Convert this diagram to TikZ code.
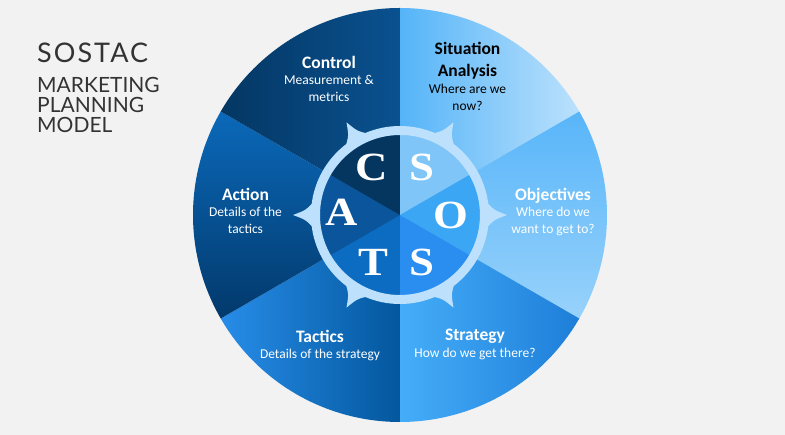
\documentclass[tikz,border=0pt]{standalone}
\usepackage{fontspec}
\setmainfont{Carlito}
\newfontfamily\headfont[LetterSpace=7.5]{Lato}
\newfontfamily\subfont{Lato}
\newfontfamily\letterfont{Liberation Serif}
\usetikzlibrary{positioning}

\definecolor{bgGray}{HTML}{F2F2F2}
\definecolor{headGray}{HTML}{333333}
\definecolor{ringBlue}{HTML}{BDE1FC}
% outer wheel shades
\definecolor{sitL}{HTML}{55B4F8}
\definecolor{sitR}{HTML}{CBE8FD}
\definecolor{objT}{HTML}{58B5F9}
\definecolor{objB}{HTML}{98D2FB}
\definecolor{strL}{HTML}{45ADF8}
\definecolor{strR}{HTML}{1777D4}
\definecolor{tacL}{HTML}{2D95F4}
\definecolor{tacR}{HTML}{03579D}
\definecolor{actT}{HTML}{0B69BA}
\definecolor{actB}{HTML}{02396B}
\definecolor{ctlL}{HTML}{03335C}
\definecolor{ctlR}{HTML}{0A5190}
% inner disc
\definecolor{inC}{HTML}{04365F}
\definecolor{inS}{HTML}{80C5F7}
\definecolor{inO}{HTML}{3AA6F4}
\definecolor{inSt}{HTML}{2A8EF0}
\definecolor{inT}{HTML}{0B6CC2}
\definecolor{inA}{HTML}{0A559C}

\begin{document}
\begin{tikzpicture}
    [
        x=1pt, y=1pt, node distance=3pt,
        ttl/.style={font=\bfseries\fontsize{17.5}{21}\selectfont, inner sep=0pt, text depth=4pt, text=white},
        dsc/.style={font=\fontsize{13.5}{17}\selectfont, align=center, inner sep=0pt, text=white},
        letter/.style={font=\letterfont\bfseries\fontsize{40}{40}\selectfont, text=white, inner sep=0pt, xscale=1.12},
        ring/.style={draw=ringBlue, line width=9pt},
        spike/.style={fill=ringBlue}
    ]
    \fill[bgGray] (-400,-220) rectangle (385,215);
    \coordinate (c) at (0,0);

    % outer wheel
    \begin{scope}
        \clip (c) -- (90:207) arc (90:30:207) -- cycle;
        \shade[left color=sitL, right color=sitR] (0,0) rectangle (207,207);
    \end{scope}
    \begin{scope}
        \clip (c) -- (30:207) arc (30:-30:207) -- cycle;
        \shade[top color=objT, bottom color=objB] (0,-104) rectangle (207,104);
    \end{scope}
    \begin{scope}
        \clip (c) -- (-30:207) arc (-30:-90:207) -- cycle;
        \shade[left color=strL, right color=strR] (0,-207) rectangle (207,0);
    \end{scope}
    \begin{scope}
        \clip (c) -- (-90:207) arc (-90:-150:207) -- cycle;
        \shade[left color=tacL, right color=tacR] (-207,-207) rectangle (0,0);
    \end{scope}
    \begin{scope}
        \clip (c) -- (-150:207) arc (-150:-210:207) -- cycle;
        \shade[top color=actT, bottom color=actB] (-207,-104) rectangle (0,104);
    \end{scope}
    \begin{scope}
        \clip (c) -- (150:207) arc (150:90:207) -- cycle;
        \shade[left color=ctlL, right color=ctlR] (-207,0) rectangle (0,207);
    \end{scope}

    % inner disc
    \fill[inS] (c) -- (90:80) arc (90:30:80) -- cycle;
    \fill[inO] (c) -- (30:80) arc (30:-30:80) -- cycle;
    \fill[inSt] (c) -- (-30:80) arc (-30:-90:80) -- cycle;
    \fill[inT] (c) -- (-90:80) arc (-90:-150:80) -- cycle;
    \fill[inA] (c) -- (-150:80) arc (-150:-210:80) -- cycle;
    \fill[inC] (c) -- (150:80) arc (150:90:80) -- cycle;

    \foreach \a in {0,60,...,300}
        \fill[spike] ({\a-10}:86) .. controls ({\a-3}:94) .. (\a:107)
            .. controls ({\a+3}:94) .. ({\a+10}:86) -- cycle;
    \draw[ring] (c) circle (84.5);

    \node[letter] (lC) at (-28,48) {C};
    \node[letter] (lS) at (22,48) {S};
    \node[letter] (lO) at (51,0) {O};
    \node[letter] (lSt) at (22,-47) {S};
    \node[letter] (lT) at (-27,-47) {T};
    \node[letter] (lA) at (-58,3) {A};

    % labels
    \node[ttl] (ctlT) at (-71,151) {Control};
    \node[dsc, below=of ctlT] (ctlD) {Measurement \&\\metrics};

    \node[ttl, text=black] (sitT) at (67.5,165) {Situation};
    \node[ttl, text=black, below=5.5pt of sitT] (sitA) {Analysis};
    \node[dsc, text=black, below=of sitA] (sitD) {Where are we\\now?};

    \node[ttl] (objT) at (153,19) {Objectives};
    \node[dsc, below=of objT] (objD) {Where do we\\want to get to?};

    \node[ttl] (strT) at (75,-122) {Strategy};
    \node[dsc, below=of strT] (strD) {How do we get there?};

    \node[ttl] (tacT) at (-80,-123) {Tactics};
    \node[dsc, below=of tacT] (tacD) {Details of the strategy};

    \node[ttl] (actT) at (-154.5,19) {Action};
    \node[dsc, below=of actT] (actD) {Details of the\\tactics};

    % heading
    \node[anchor=west, inner sep=0pt, text=headGray, font=\headfont\fontsize{27}{27}\selectfont] (hd) at (-363,162.5) {SOSTAC};
    \node[anchor=north west, inner sep=0pt, align=left, text=headGray, font=\subfont\fontsize{21}{20}\selectfont] (sub) at (-363,138) {MARKETING\\PLANNING\\MODEL};
\end{tikzpicture}
\end{document}
